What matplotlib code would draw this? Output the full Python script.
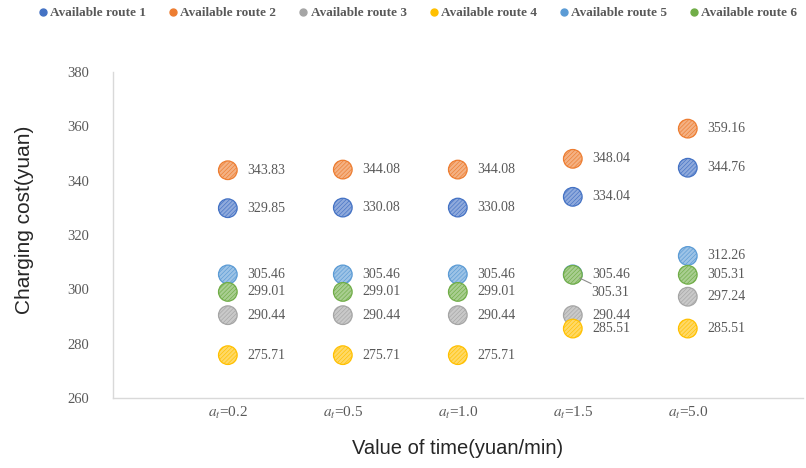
import matplotlib
matplotlib.use("Agg")
import matplotlib.pyplot as plt
from matplotlib.colors import to_rgb
from matplotlib.lines import Line2D

# value-of-time settings (x categories)
time_values = ["0.2", "0.5", "1.0", "1.5", "5.0"]

# charging cost (yuan) per available route
route1 = [329.85, 330.08, 330.08, 334.04, 344.76]
route2 = [343.83, 344.08, 344.08, 348.04, 359.16]
route3 = [290.44, 290.44, 290.44, 290.44, 297.24]
route4 = [275.71, 275.71, 275.71, 285.51, 285.51]
route5 = [305.46, 305.46, 305.46, 305.46, 312.26]
route6 = [299.01, 299.01, 299.01, 305.31, 305.31]

routes = [route1, route2, route3, route4, route5, route6]
route_names = [f"Available route {i}" for i in range(1, 7)]
colors = ["#4472C4", "#ED7D31", "#A5A5A5", "#FFC000", "#5B9BD5", "#70AD47"]

plt.rcParams["mathtext.fontset"] = "stix"
plt.rcParams["hatch.linewidth"] = 0.45
SERIF = ["Liberation Serif", "DejaVu Serif"]
SANS = ["Liberation Sans", "DejaVu Sans"]
GREY = "#595959"


def tint(c, f=0.4):
    r, g, b = to_rgb(c)
    return (r + (1 - r) * f, g + (1 - g) * f, b + (1 - b) * f)


fig = plt.figure(figsize=(8.06, 4.68), dpi=100)
ax = fig.add_axes([0.140, 0.150, 0.856, 0.696])

xs = list(range(1, len(time_values) + 1))
for vals, col in zip(routes, colors):
    ax.scatter(xs, vals, s=180, facecolor=tint(col), edgecolor=col,
               hatch="////////", linewidth=0.9, zorder=3)

# value labels to the right of each marker
for ri, vals in enumerate(routes):
    for xi, v in zip(xs, vals):
        if ri == 5 and xi == 4:
            # overlaps route 5 here: push label down with a leader line
            ax.annotate(f"{v:.2f}", xy=(xi, v), xytext=(13.5, -13), textcoords="offset points",
                        va="center", ha="left", fontsize=10, color=GREY, family=SERIF,
                        arrowprops=dict(arrowstyle="-", color="#8c8c8c", lw=0.8,
                                        shrinkA=0, shrinkB=5.5))
        else:
            ax.annotate(f"{v:.2f}", xy=(xi, v), xytext=(14, 0), textcoords="offset points",
                        va="center", ha="left", fontsize=10, color=GREY, family=SERIF)

ax.set_xlim(0, 6)
ax.set_ylim(260, 380)
ax.set_yticks(range(260, 381, 20))
ax.set_xticks(xs)
ax.set_xticklabels([rf"$a_t$=" + t for t in time_values], family=SERIF, fontsize=11, color=GREY)
for lab in ax.get_yticklabels():
    lab.set_family(SERIF)
ax.tick_params(axis="y", length=0, pad=17, labelsize=10.5, labelcolor=GREY)
ax.tick_params(axis="x", length=0, pad=5)

for side in ("top", "right"):
    ax.spines[side].set_visible(False)
for side in ("left", "bottom"):
    ax.spines[side].set_color("#d9d9d9")
    ax.spines[side].set_linewidth(1.0)

ax.set_ylabel("Charging cost(yuan)", family=SANS, fontsize=15, color="#262626")
ax.yaxis.set_label_coords(-0.114, 0.545)
ax.set_xlabel("Value of time(yuan/min)", family=SANS, fontsize=14.5, color="#262626", labelpad=13)

handles = [Line2D([], [], ls="", marker="o", markersize=5, markerfacecolor=c, markeredgecolor=c)
           for c in colors]
fig.legend(handles, route_names, loc="upper left", bbox_to_anchor=(0.03, 1.01), ncol=6,
           frameon=False, handletextpad=0.05, columnspacing=1.55, handlelength=1.0,
           prop={"family": SERIF, "weight": "bold", "size": 9.5}, labelcolor=GREY)

fig.savefig("out.png", dpi=100)
